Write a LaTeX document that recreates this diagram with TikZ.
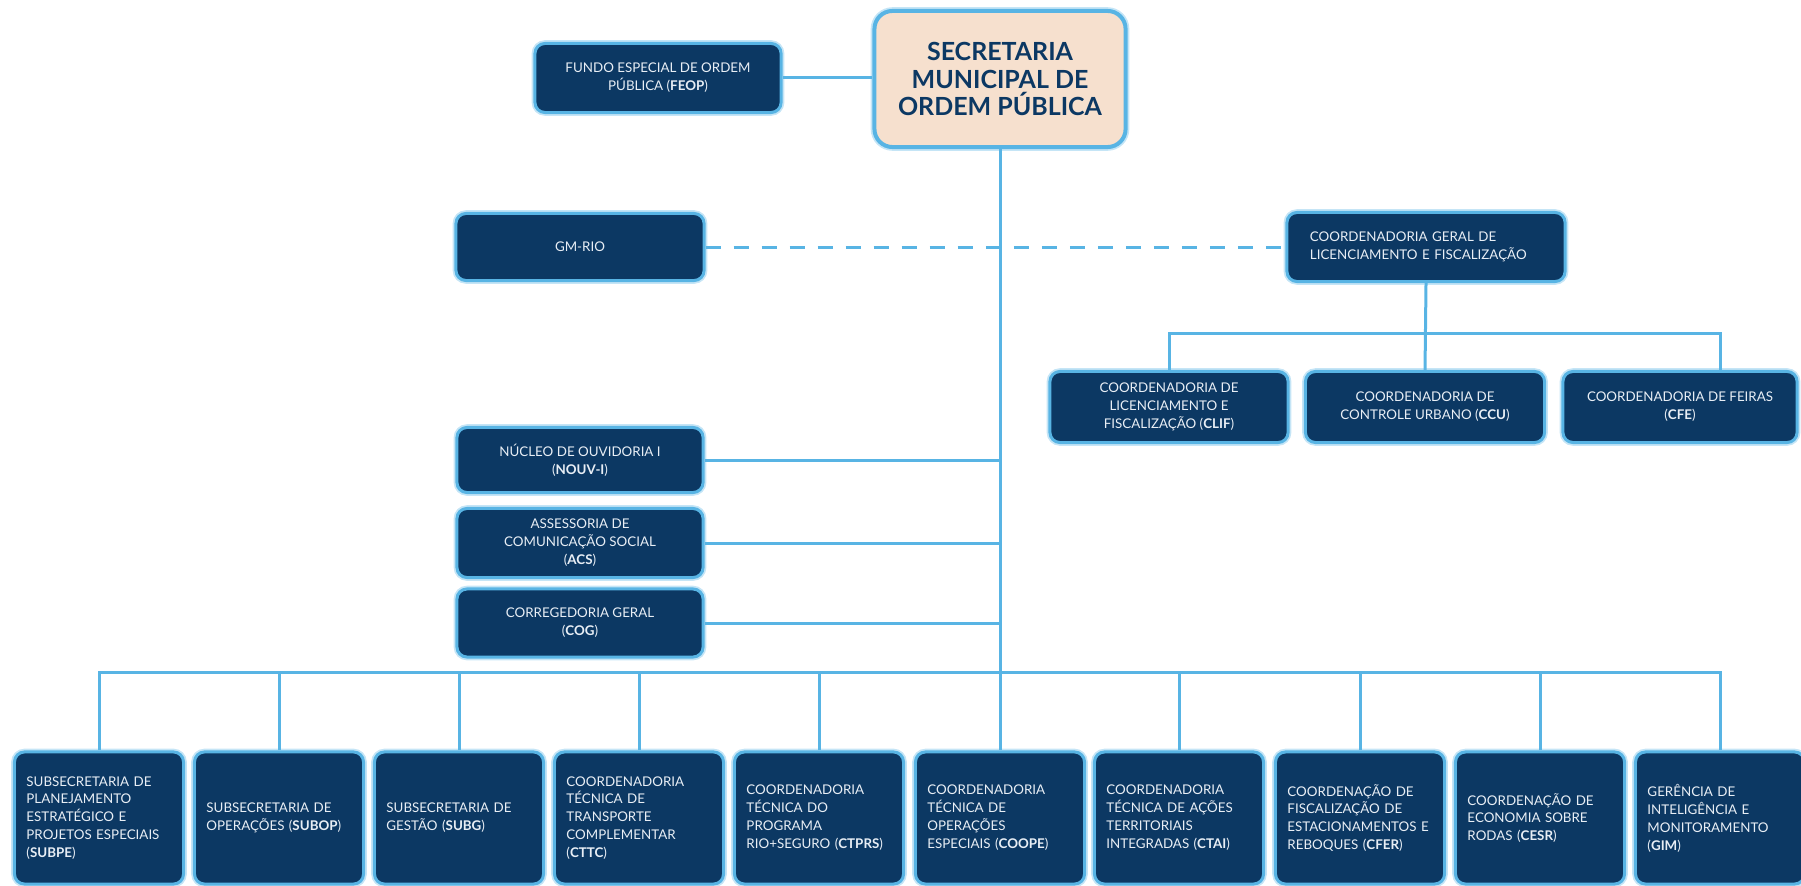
\documentclass[tikz,border=0pt]{standalone}
\usepackage{fontspec}
\setmainfont{Lato}
\definecolor{navybox}{RGB}{12,56,99}
\definecolor{edgeblue}{RGB}{88,180,228}
\definecolor{peach}{RGB}{246,224,206}
\definecolor{paleink}{RGB}{232,238,245}

\begin{document}
\begin{tikzpicture}[x=0.01cm, y=-0.01cm,
    unit/.style={draw=edgeblue, line width=0.03cm, fill=navybox,
      preaction={draw=edgeblue!35, line width=0.065cm},
      rounded corners=0.1cm, text=paleink, inner sep=0pt,
      font=\fontsize{3.8}{5.1}\selectfont, align=center},
    sideunit/.style={unit, minimum width=2.46cm, minimum height=0.68cm},
    leafunit/.style={unit, minimum width=1.69cm, minimum height=1.32cm,
      text width=1.45cm, align=left},
    headunit/.style={draw=edgeblue, line width=0.04cm, fill=peach,
      preaction={draw=edgeblue!35, line width=0.075cm},
      rounded corners=0.18cm, text=navybox, align=center,
      font=\bfseries\fontsize{7.1}{7.8}\selectfont,
      minimum width=2.51cm, minimum height=1.36cm},
    link/.style={edgeblue, line width=0.03cm}]

      \useasboundingbox (0,0) rectangle (1801,885);

      % top
      \node[headunit] (sec) at (1000,79) {SECRETARIA\\MUNICIPAL DE\\ORDEM PÚBLICA};
      \node[unit, minimum width=2.46cm, minimum height=0.69cm] (feop) at (658,78)
        {FUNDO ESPECIAL DE ORDEM\\PÚBLICA (\textbf{FEOP})};

      % middle
      \node[unit, minimum width=2.48cm, minimum height=0.67cm] (gmrio) at (580,247) {GM-RIO};
      \node[unit, minimum width=2.78cm, minimum height=0.69cm, text width=2.32cm,
        align=left] (cglf) at (1426,247)
        {COORDENADORIA GERAL DE\\LICENCIAMENTO E FISCALIZAÇÃO};
      \node[unit, minimum width=2.38cm, minimum height=0.71cm] (clif) at (1169,407)
        {COORDENADORIA DE\\LICENCIAMENTO E\\FISCALIZAÇÃO (\textbf{CLIF})};
      \node[unit, minimum width=2.39cm, minimum height=0.71cm] (ccu) at (1425,407)
        {COORDENADORIA DE\\CONTROLE URBANO (\textbf{CCU})};
      \node[unit, minimum width=2.34cm, minimum height=0.71cm] (cfe) at (1680,407)
        {COORDENADORIA DE FEIRAS\\(\textbf{CFE})};
      \node[sideunit, minimum height=0.65cm] (nouv) at (580,460)
        {NÚCLEO DE OUVIDORIA I\\(\textbf{NOUV-I})};
      \node[sideunit, minimum height=0.69cm] (acs) at (580,543)
        {ASSESSORIA DE\\COMUNICAÇÃO SOCIAL\\(\textbf{ACS})};
      \node[sideunit] (cog) at (580,623)
        {CORREGEDORIA GERAL\\(\textbf{COG})};

      % bottom row
      \node[leafunit] (subpe) at (99,818)
        {SUBSECRETARIA DE\\PLANEJAMENTO\\ESTRATÉGICO E\\PROJETOS ESPECIAIS\\(\textbf{SUBPE})};
      \node[leafunit] (subop) at (279,818)
        {SUBSECRETARIA DE\\OPERAÇÕES (\textbf{SUBOP})};
      \node[leafunit] (subg) at (459,818)
        {SUBSECRETARIA DE\\GESTÃO (\textbf{SUBG})};
      \node[leafunit] (cttc) at (639,818)
        {COORDENADORIA\\TÉCNICA DE\\TRANSPORTE\\COMPLEMENTAR\\(\textbf{CTTC})};
      \node[leafunit] (ctprs) at (819,818)
        {COORDENADORIA\\TÉCNICA DO\\PROGRAMA\\RIO+SEGURO (\textbf{CTPRS})};
      \node[leafunit] (coope) at (1000,818)
        {COORDENADORIA\\TÉCNICA DE\\OPERAÇÕES\\ESPECIAIS (\textbf{COOPE})};
      \node[leafunit] (ctai) at (1179,818)
        {COORDENADORIA\\TÉCNICA DE AÇÕES\\TERRITORIAIS\\INTEGRADAS (\textbf{CTAI})};
      \node[leafunit] (cfer) at (1360,818)
        {COORDENAÇÃO DE\\FISCALIZAÇÃO DE\\ESTACIONAMENTOS~E\\REBOQUES (\textbf{CFER})};
      \node[leafunit] (cesr) at (1540,818)
        {COORDENAÇÃO DE\\ECONOMIA SOBRE\\RODAS (\textbf{CESR})};
      \node[leafunit] (gim) at (1720,818)
        {GERÊNCIA DE\\INTELIGÊNCIA E\\MONITORAMENTO\\(\textbf{GIM})};

      \coordinate (bus) at (0,672);
      \coordinate (subbus) at (0,333);
      \coordinate (cfedrop) at (1720,333);

      % links
      \draw[link] (sec.south) -- (coope.north);
      \draw[link] (feop.east) -- (feop.east -| sec.west);
      \draw[link, dash pattern=on 0.15cm off 0.13cm] (gmrio.east) -- (cglf.west);
      \draw[link] (nouv.east) -- (nouv.east -| sec.south);
      \draw[link] (acs.east) -- (acs.east -| sec.south);
      \draw[link] (cog.east) -- (cog.east -| sec.south);
      \draw[link] (cglf.south) -- (ccu.north);
      \draw[link] (clif.north) |- (cfedrop) -- (cfedrop |- cfe.north);
      \draw[link] (subpe.north) |- (gim.north |- bus) -- (gim.north);
      \foreach \n in {subop,subg,cttc,ctprs,ctai,cfer,cesr}
        \draw[link] (\n.north) -- (\n.north |- bus);

    \end{tikzpicture}
\end{document}
